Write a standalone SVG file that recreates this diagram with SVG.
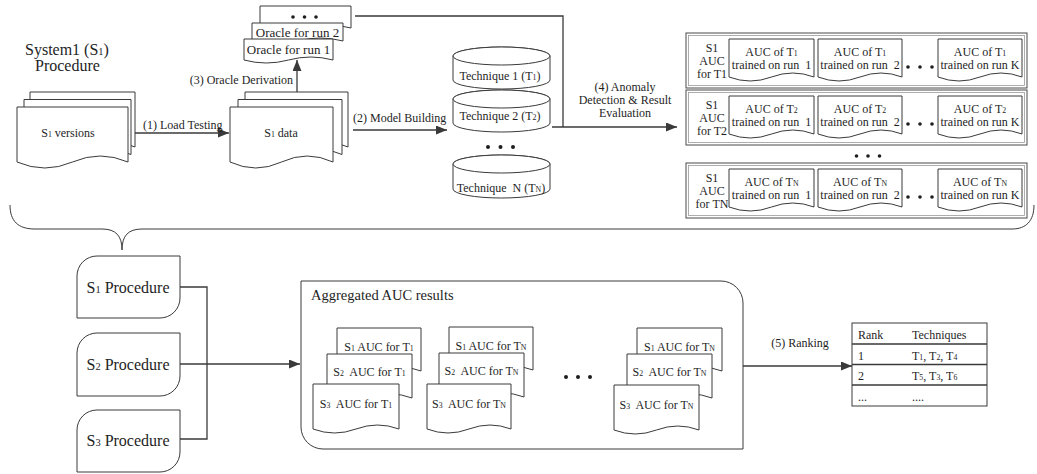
<svg xmlns="http://www.w3.org/2000/svg" width="1037" height="474" viewBox="0 0 1037 474">
  <defs>
    <style>
      text { font-family: "Liberation Serif", "Times New Roman", serif; fill: #1e1e1e; }
      .t12 { font-size: 12px; }
      .t13 { font-size: 13px; }
      .t14 { font-size: 14.5px; }
      .t16 { font-size: 16px; }
      .mid { text-anchor: middle; }
      .pre { white-space: pre; }
      .sub { font-size: 65%; }
      .shape { fill: #fff; stroke: #3a3a3a; stroke-width: 1; }
      .line { fill: none; stroke: #3a3a3a; stroke-width: 1.3; }
      .rowOuter { fill: #fff; stroke: #4a4a4a; stroke-width: 1; }
      .rowInner { fill: none; stroke: #9a9a9a; stroke-width: 0.8; }
      .dot { fill: #1e1e1e; }
    </style>
    <marker id="arrow" viewBox="0 0 11 9" refX="11" refY="4.5" markerWidth="11" markerHeight="9" markerUnits="userSpaceOnUse" orient="auto">
      <path d="M0,0 L11,4.5 L0,9 Z" fill="#3a3a3a"/>
    </marker>
  </defs>

  <!-- title -->
  <g id="title">
    <text class="t16" x="25" y="55">System1 (S<tspan class="sub">1</tspan>)</text>
    <text class="t16" x="35" y="71">Procedure</text>
  </g>

  <!-- connectors -->
  <g id="connectors">
    <path class="line" d="M128,133 H229" marker-end="url(#arrow)"/>
    <path class="line" d="M297,92 V60" marker-end="url(#arrow)"/>
    <path class="line" d="M353,130 H447" marker-end="url(#arrow)"/>
    <path class="line" d="M355,16 H563 V127"/>
    <path class="line" d="M552,127 H677" marker-end="url(#arrow)"/>
    <path class="line" d="M180,287 H207 V439 H180"/>
    <path class="line" d="M180,364 H300" marker-end="url(#arrow)"/>
    <path class="line" d="M743,366 H852" marker-end="url(#arrow)"/>
    <!-- brace grouping the whole per-system procedure -->
    <path fill="none" stroke="#3a3a3a" stroke-width="1" d="M10,205 C10,221 18,229 35,229 H102 C116,229 122,236 122,250 C122,236 128,229 142,229 H1012 C1026,229 1034,221 1034,205"/>
    <text class="t12" x="143" y="129">(1) Load Testing</text>
    <text class="t12" x="293" y="84" text-anchor="end">(3) Oracle Derivation</text>
    <text class="t12" x="353" y="122">(2) Model Building</text>
    <text class="t12 mid" x="625" y="91">(4) Anomaly</text>
    <text class="t12 mid" x="625" y="104">Detection &amp; Result</text>
    <text class="t12 mid" x="625" y="117">Evaluation</text>
    <text class="t12 mid" x="800" y="347">(5) Ranking</text>
  </g>

  <!-- S1 versions -->
  <g id="s1-versions">
    <path class="shape" d="M30,92 H135 V147 Q108.75,135 82.5,147 Q56.25,159 30,147 Z"/>
    <path class="shape" d="M24,99.5 H131 V154.5 Q104.25,142.5 77.5,154.5 Q50.75,166.5 24,154.5 Z"/>
    <path class="shape" d="M17,107 H128 V162 Q100.25,150 72.5,162 Q44.75,174 17,162 Z"/>
    <text class="t12 mid" x="68" y="137">S<tspan class="sub">1</tspan> versions</text>
  </g>

  <!-- S1 data -->
  <g id="s1-data">
    <path class="shape" d="M245,92 H348 V147 Q322.25,135 296.5,147 Q270.75,159 245,147 Z"/>
    <path class="shape" d="M238,99.5 H342 V154.5 Q316,142.5 290,154.5 Q264,166.5 238,154.5 Z"/>
    <path class="shape" d="M230,107 H333 V162 Q307.25,150 281.5,162 Q255.75,174 230,162 Z"/>
    <text class="t12 mid" x="281" y="137">S<tspan class="sub">1</tspan> data</text>
  </g>

  <!-- oracles -->
  <g id="oracles">
    <path class="shape" d="M260,6 H351 V28 Q328.25,22 305.5,28 Q282.75,34 260,28 Z"/>
    <circle class="dot" cx="293" cy="17" r="1.8"/>
    <circle class="dot" cx="304.5" cy="17" r="1.8"/>
    <circle class="dot" cx="316" cy="17" r="1.8"/>
    <path class="shape" d="M252,23 H343 V41 Q320.25,35 297.5,41 Q274.75,47 252,41 Z"/>
    <text class="t13 mid" x="297.5" y="36.5">Oracle for run 2</text>
    <path class="shape" d="M244,39 H333 V60 Q310.75,54 288.5,60 Q266.25,66 244,60 Z"/>
    <text class="t13 mid" x="288.5" y="53.5">Oracle for run 1</text>
  </g>

  <!-- techniques -->
  <g id="technique-1">
    <path class="shape" d="M453,56 V80 A48.5,9 0 0 0 550,80 V56 A48.5,9 0 0 0 453,56 Z"/>
    <ellipse class="shape" cx="501.5" cy="56" rx="48.5" ry="9"/>
    <text class="t12 mid" x="500" y="80">Technique 1 (T<tspan class="sub">1</tspan>)</text>
  </g>
  <g id="technique-2">
    <path class="shape" d="M453,99 V123 A48.5,9 0 0 0 550,123 V99 A48.5,9 0 0 0 453,99 Z"/>
    <ellipse class="shape" cx="501.5" cy="99" rx="48.5" ry="9"/>
    <text class="t12 mid" x="500" y="120">Technique 2 (T<tspan class="sub">2</tspan>)</text>
  </g>
  <g id="technique-dots">
    <circle class="dot" cx="488" cy="147" r="2"/>
    <circle class="dot" cx="500.5" cy="147" r="2"/>
    <circle class="dot" cx="513" cy="147" r="2"/>
  </g>
  <g id="technique-n">
    <path class="shape" d="M453,164 V189 A48.5,9 0 0 0 550,189 V164 A48.5,9 0 0 0 453,164 Z"/>
    <ellipse class="shape" cx="501.5" cy="164" rx="48.5" ry="9"/>
    <text class="t12 mid pre" x="501" y="192">Technique  N (T<tspan class="sub">N</tspan>)</text>
  </g>

  <!-- AUC rows -->
  <g id="auc-t1">
    <rect class="rowOuter" x="686" y="33" width="341" height="55"/>
    <rect class="rowInner" x="688.5" y="35.5" width="336" height="50"/>
    <text class="t12 mid" x="712" y="52">S1</text>
    <text class="t12 mid" x="712" y="65">AUC</text>
    <text class="t12 mid" x="712" y="78">for T1</text>
    <path class="shape" d="M729,39 H814 V77 Q792.75,69 771.5,77 Q750.25,85 729,77 Z"/>
    <path class="shape" d="M818,39 H902 V77 Q881,69 860,77 Q839,85 818,77 Z"/>
    <path class="shape" d="M938,39 H1022 V77 Q1001,69 980,77 Q959,85 938,77 Z"/>
    <text class="t12 mid" x="771.5" y="56">AUC of T<tspan class="sub">1</tspan></text>
    <text class="t12 mid pre" x="771.5" y="69">trained on run  1</text>
    <text class="t12 mid" x="860" y="56">AUC of T<tspan class="sub">1</tspan></text>
    <text class="t12 mid pre" x="860" y="69">trained on run  2</text>
    <text class="t12 mid" x="980" y="56">AUC of T<tspan class="sub">1</tspan></text>
    <text class="t12 mid" x="980" y="69">trained on run K</text>
    <circle class="dot" cx="908" cy="67" r="1.8"/>
    <circle class="dot" cx="920" cy="67" r="1.8"/>
    <circle class="dot" cx="932" cy="67" r="1.8"/>
  </g>
  <g id="auc-t2" transform="translate(0,57)">
    <rect class="rowOuter" x="686" y="33" width="341" height="55"/>
    <rect class="rowInner" x="688.5" y="35.5" width="336" height="50"/>
    <text class="t12 mid" x="712" y="52">S1</text>
    <text class="t12 mid" x="712" y="65">AUC</text>
    <text class="t12 mid" x="712" y="78">for T2</text>
    <path class="shape" d="M729,39 H814 V77 Q792.75,69 771.5,77 Q750.25,85 729,77 Z"/>
    <path class="shape" d="M818,39 H902 V77 Q881,69 860,77 Q839,85 818,77 Z"/>
    <path class="shape" d="M938,39 H1022 V77 Q1001,69 980,77 Q959,85 938,77 Z"/>
    <text class="t12 mid" x="771.5" y="56">AUC of T<tspan class="sub">2</tspan></text>
    <text class="t12 mid pre" x="771.5" y="69">trained on run  1</text>
    <text class="t12 mid" x="860" y="56">AUC of T<tspan class="sub">2</tspan></text>
    <text class="t12 mid pre" x="860" y="69">trained on run  2</text>
    <text class="t12 mid" x="980" y="56">AUC of T<tspan class="sub">2</tspan></text>
    <text class="t12 mid" x="980" y="69">trained on run K</text>
    <circle class="dot" cx="908" cy="67" r="1.8"/>
    <circle class="dot" cx="920" cy="67" r="1.8"/>
    <circle class="dot" cx="932" cy="67" r="1.8"/>
  </g>
  <g id="auc-row-dots">
    <circle class="dot" cx="856.5" cy="156" r="1.8"/>
    <circle class="dot" cx="868" cy="156" r="1.8"/>
    <circle class="dot" cx="879.5" cy="156" r="1.8"/>
  </g>
  <g id="auc-tn" transform="translate(0,130)">
    <rect class="rowOuter" x="686" y="33" width="341" height="55"/>
    <rect class="rowInner" x="688.5" y="35.5" width="336" height="50"/>
    <text class="t12 mid" x="712" y="52">S1</text>
    <text class="t12 mid" x="712" y="65">AUC</text>
    <text class="t12 mid" x="712" y="78">for TN</text>
    <path class="shape" d="M729,39 H814 V77 Q792.75,69 771.5,77 Q750.25,85 729,77 Z"/>
    <path class="shape" d="M818,39 H902 V77 Q881,69 860,77 Q839,85 818,77 Z"/>
    <path class="shape" d="M938,39 H1022 V77 Q1001,69 980,77 Q959,85 938,77 Z"/>
    <text class="t12 mid" x="771.5" y="56">AUC of T<tspan class="sub">N</tspan></text>
    <text class="t12 mid pre" x="771.5" y="69">trained on run  1</text>
    <text class="t12 mid" x="860" y="56">AUC of T<tspan class="sub">N</tspan></text>
    <text class="t12 mid pre" x="860" y="69">trained on run  2</text>
    <text class="t12 mid" x="980" y="56">AUC of T<tspan class="sub">N</tspan></text>
    <text class="t12 mid" x="980" y="69">trained on run K</text>
    <circle class="dot" cx="908" cy="67" r="1.8"/>
    <circle class="dot" cx="920" cy="67" r="1.8"/>
    <circle class="dot" cx="932" cy="67" r="1.8"/>
  </g>

  <!-- per-system procedures -->
  <g id="s1-procedure">
    <path class="shape" d="M77,276 A20,20 0 0 1 97,256 H180 V298 A20,20 0 0 1 160,318 H77 Z"/>
    <text class="t16 mid" x="128" y="293">S<tspan class="sub">1</tspan> Procedure</text>
  </g>
  <g id="s2-procedure">
    <path class="shape" d="M77,353 A20,20 0 0 1 97,333 H180 V376 A20,20 0 0 1 160,396 H77 Z"/>
    <text class="t16 mid" x="128" y="370">S<tspan class="sub">2</tspan> Procedure</text>
  </g>
  <g id="s3-procedure">
    <path class="shape" d="M77,430 A20,20 0 0 1 97,410 H180 V452 A20,20 0 0 1 160,472 H77 Z"/>
    <text class="t16 mid" x="128" y="446">S<tspan class="sub">3</tspan> Procedure</text>
  </g>

  <!-- aggregated results -->
  <g id="aggregated">
    <path class="shape" d="M301,281 H721 A22,22 0 0 1 743,303 V449 H323 A22,22 0 0 1 301,427 Z"/>
    <text class="t14" x="311" y="300">Aggregated AUC results</text>
  </g>
  <g id="agg-t1">
    <path class="shape" d="M337,328 H421 V371 Q400,363 379,371 Q358,379 337,371 Z"/>
    <text class="t12 mid" x="379" y="351">S<tspan class="sub">1</tspan> AUC for T<tspan class="sub">1</tspan></text>
    <path class="shape" d="M327,354 H412 V398 Q390.75,390 369.5,398 Q348.25,406 327,398 Z"/>
    <text class="t12 mid pre" x="369.5" y="376">S<tspan class="sub">2</tspan>  AUC for T<tspan class="sub">1</tspan></text>
    <path class="shape" d="M313,384 H399 V429 Q377.5,421 356,429 Q334.5,437 313,429 Z"/>
    <text class="t12 mid pre" x="356" y="408">S<tspan class="sub">3</tspan>  AUC for T<tspan class="sub">1</tspan></text>
  </g>
  <g id="agg-tn-a">
    <path class="shape" d="M449,327 H533 V370 Q512,362 491,370 Q470,378 449,370 Z"/>
    <text class="t12 mid" x="491" y="350">S<tspan class="sub">1</tspan> AUC for T<tspan class="sub">N</tspan></text>
    <path class="shape" d="M439,353 H524 V397 Q502.75,389 481.5,397 Q460.25,405 439,397 Z"/>
    <text class="t12 mid pre" x="481.5" y="375">S<tspan class="sub">2</tspan>  AUC for T<tspan class="sub">N</tspan></text>
    <path class="shape" d="M427,384 H511 V429 Q490,421 469,429 Q448,437 427,429 Z"/>
    <text class="t12 mid pre" x="469" y="408">S<tspan class="sub">3</tspan>  AUC for T<tspan class="sub">N</tspan></text>
  </g>
  <g id="agg-dots">
    <circle class="dot" cx="566" cy="377" r="2"/>
    <circle class="dot" cx="578" cy="377" r="2"/>
    <circle class="dot" cx="590" cy="377" r="2"/>
  </g>
  <g id="agg-tn-b">
    <path class="shape" d="M637,328 H722 V371 Q700.75,363 679.5,371 Q658.25,379 637,371 Z"/>
    <text class="t12 mid" x="679.5" y="351">S<tspan class="sub">1</tspan> AUC for T<tspan class="sub">N</tspan></text>
    <path class="shape" d="M627,354 H712 V398 Q690.75,390 669.5,398 Q648.25,406 627,398 Z"/>
    <text class="t12 mid pre" x="669.5" y="376">S<tspan class="sub">2</tspan>  AUC for T<tspan class="sub">N</tspan></text>
    <path class="shape" d="M614,385 H699 V430 Q677.75,422 656.5,430 Q635.25,438 614,430 Z"/>
    <text class="t12 mid pre" x="656.5" y="409">S<tspan class="sub">3</tspan>  AUC for T<tspan class="sub">N</tspan></text>
  </g>

  <!-- ranking table -->
  <g id="ranking">
    <rect class="shape" x="852" y="323" width="135" height="83"/>
    <path class="line" d="M852,344 H987 M852,364.5 H987 M852,385 H987" stroke-width="1"/>
    <text class="t12" x="858" y="339">Rank</text>
    <text class="t12" x="912" y="339">Techniques</text>
    <text class="t12" x="858" y="360">1</text>
    <text class="t12" x="912" y="360">T<tspan class="sub">1</tspan>, T<tspan class="sub">2</tspan>, T<tspan class="sub">4</tspan></text>
    <text class="t12" x="858" y="380">2</text>
    <text class="t12" x="912" y="380">T<tspan class="sub">5</tspan>, T<tspan class="sub">3</tspan>, T<tspan class="sub">6</tspan></text>
    <text class="t12" x="858" y="401">...</text>
    <text class="t12" x="912" y="401">....</text>
  </g>
</svg>
